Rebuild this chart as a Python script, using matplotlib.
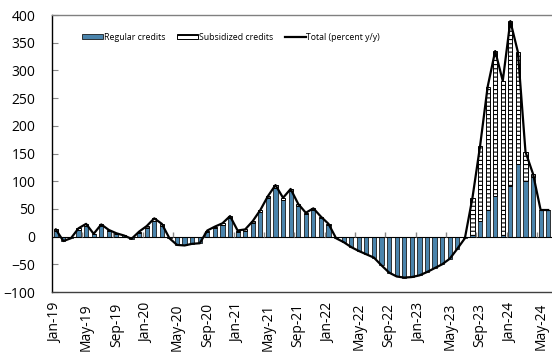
import numpy as np
import matplotlib.pyplot as plt

plt.rcParams['font.family'] = ['Open Sans', 'DejaVu Sans']
plt.rcParams['hatch.linewidth'] = 0.8

# monthly series, Jan-19 .. Jun-24 (percent y/y)
total = [13, -8, -3, 15, 23, 5, 22, 12, 6, 2, -4, 9,
         19, 33, 23, -3, -15, -16, -13, -12, 11, 18, 24, 37,
         11, 13, 28, 48, 73, 93, 70, 86, 59, 43, 51, 36,
         23, -3, -10, -19, -26, -32, -38, -52, -65, -72, -74, -73,
         -70, -64, -57, -50, -40, -22, -3, 70, 163, 270, 335, 281,
         389, 333, 153, 113, 48, 48]
subsidized = [2, 0, 0, 3, 3, 1, 3, 2, 1, 0, 0, 2,
              3, 4, 3, 0, 0, 0, 0, 0, 2, 3, 3, 4,
              2, 2, 3, 4, 4, 5, 4, 4, 3, 3, 3, 3,
              2, 0, 0, 0, 0, 0, 0, 0, 0, 0, 0, 0,
              0, 0, 0, 0, 0, 0, 0, 67, 135, 222, 261, 278,
              297, 202, 52, 5, 0, 0]
regular = [t - s for t, s in zip(total, subsidized)]

mnames = ['Jan', 'Feb', 'Mar', 'Apr', 'May', 'Jun',
          'Jul', 'Aug', 'Sep', 'Oct', 'Nov', 'Dec']
labels = [f"{m}-{y}" for y in range(19, 25) for m in mnames][:len(total)]

x = np.arange(len(total))
regular = np.array(regular)
subsidized = np.array(subsidized)
base = np.where(regular > 0, regular, 0)

fig = plt.figure(figsize=(5.52, 3.54), dpi=100)
ax = fig.add_axes([52/552, 62/354, 500/552, 277/354])

ax.bar(x, regular, width=0.55, color='#4A84AC', edgecolor='#1a1a1a',
       linewidth=0.6, label='Regular credits', zorder=2)
ax.bar(x, subsidized, width=0.55, bottom=base, color='white',
       edgecolor='black', hatch='----', linewidth=0.7,
       label='Subsidized credits', zorder=2)
ax.plot(x, total, color='black', lw=1.6, label='Total (percent y/y)', zorder=4)

ax.axhline(0, color='black', lw=0.8, zorder=3)
ax.vlines(np.arange(3.5, len(total), 4), 0, 9, color='#888888', lw=1, zorder=3)

ax.set_xlim(-0.5, 65.5)
ax.set_ylim(-100, 400)
ax.set_yticks(range(-100, 401, 50))
ax.set_xticks(x[::4])
ax.set_xticklabels(labels[::4], rotation=90)
ax.tick_params(axis='x', length=0, pad=8, labelsize=10)
ax.tick_params(axis='y', direction='in', length=4, color='#888888',
               labelsize=10, pad=12)

ax.spines['right'].set_visible(False)
ax.spines['top'].set_color('#808080')
ax.spines['bottom'].set_color('#404040')
ax.spines['left'].set_color('black')
for s in ax.spines.values():
    s.set_linewidth(1)

h, l = ax.get_legend_handles_labels()
order = [1, 2, 0]
ax.legend([h[i] for i in order], [l[i] for i in order],
          loc='upper left', bbox_to_anchor=(0.045, 0.965), ncol=3,
          frameon=False, fontsize=6.3, handlelength=2.4, handleheight=0.6,
          handletextpad=0.1, columnspacing=1.3)

fig.savefig('out.png', dpi=100)
